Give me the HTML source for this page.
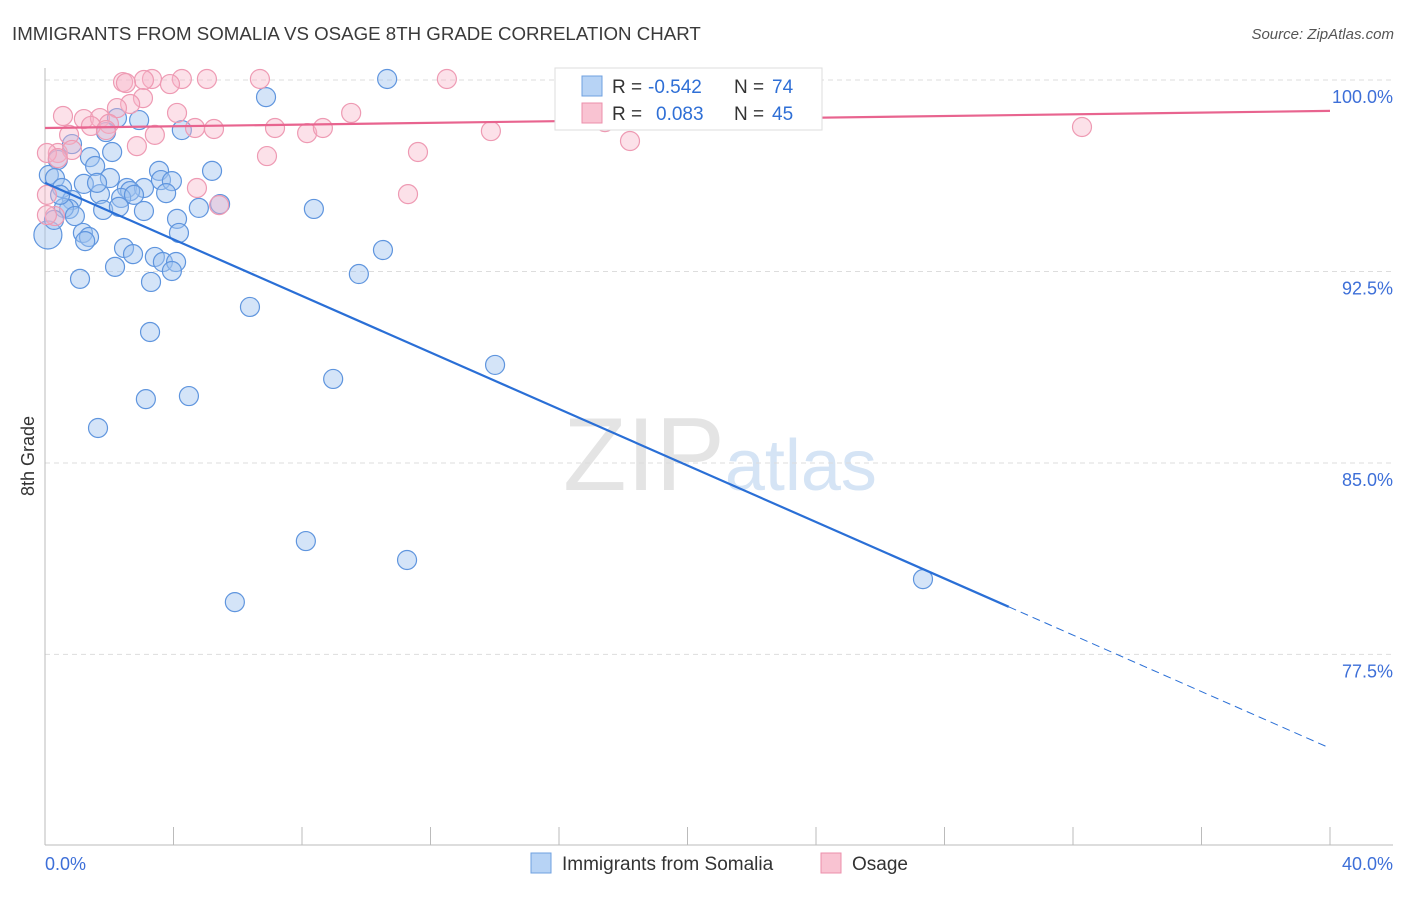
<!DOCTYPE html>
<html><head><meta charset="utf-8"><style>
body{margin:0;background:#fff;font-family:"Liberation Sans",sans-serif}
svg text{font-family:"Liberation Sans",sans-serif}
</style></head><body>
<svg id="chart" width="1406" height="892" xmlns="http://www.w3.org/2000/svg">
<text x="12" y="40" font-size="18.7" fill="#3a3a3a">IMMIGRANTS FROM SOMALIA VS OSAGE 8TH GRADE CORRELATION CHART</text>
<text x="1394" y="39" font-size="15" fill="#555" text-anchor="end" font-style="italic">Source: ZipAtlas.com</text>
<text x="720" y="490" font-size="104" fill="#e4e4e4" text-anchor="middle" font-family="Liberation Serif">ZIP<tspan fill="#d5e4f5" font-family="Liberation Sans" font-size="72">atlas</tspan></text>
<text transform="translate(34,456) rotate(-90)" font-size="18" fill="#333" text-anchor="middle">8th Grade</text>
<g id="grid"></g><g id="axes"></g><g id="pts"></g><g id="lines"></g>
<g>
<rect x="555" y="68" width="267" height="62" fill="#fff" stroke="#ddd"/>
<rect x="582" y="76" width="20" height="20" fill="#b7d3f5" stroke="#6fa0e0"/>
<rect x="582" y="103" width="20" height="20" fill="#f9c3d2" stroke="#ec8fab"/>
<text x="612" y="93" font-size="19" fill="#333">R = <tspan fill="#2f6fd6" x="648">-0.542</tspan><tspan x="734">N = </tspan><tspan fill="#2f6fd6" x="772">74</tspan></text>
<text x="612" y="120" font-size="19" fill="#333">R = <tspan fill="#2f6fd6" x="656">0.083</tspan><tspan x="734">N = </tspan><tspan fill="#2f6fd6" x="772">45</tspan></text>
</g>
<g>
<rect x="531" y="853" width="20" height="20" fill="#b7d3f5" stroke="#6fa0e0"/>
<text x="562" y="870" font-size="19" fill="#333">Immigrants from Somalia</text>
<rect x="821" y="853" width="20" height="20" fill="#f9c3d2" stroke="#ec8fab"/>
<text x="852" y="870" font-size="19" fill="#333">Osage</text>
</g>
</svg>
<script>
const yTicks=[100,92.5,85,77.5];
const yTickLabels=["100.0%","92.5%","85.0%","77.5%"];
const xTickLabels=["0.0%","40.0%"];
const blueX=[10.65,6.88,2.93,2.24,4.26,1.90,2.09,0.84,1.40,0.40,1.56,3.55,5.20,0.12,0.31,2.02,3.61,3.95,1.21,0.53,2.55,3.08,1.71,2.65,3.77,2.37,2.77,0.84,0.75,0.59,1.81,2.30,3.08,4.79,5.45,8.37,0.93,4.11,1.18,4.17,1.37,1.25,0.09,2.46,10.52,2.74,3.42,3.67,4.08,2.18,3.95,9.77,1.09,3.30,6.38,3.27,14.01,8.97,4.48,3.14,1.65,8.12,11.27,27.33,5.91,0.28,0.47,1.62];
const blueY=[100.04,99.33,98.43,98.51,98.04,97.96,97.18,97.49,96.98,96.87,96.63,96.44,96.44,96.28,96.16,96.16,96.08,96.04,95.93,95.77,95.77,95.77,95.53,95.65,95.57,95.38,95.50,95.30,94.95,94.99,94.91,95.03,94.87,94.99,95.14,94.95,94.67,94.56,94.01,94.01,93.85,93.69,93.93,93.42,93.34,93.18,93.07,92.87,92.87,92.68,92.52,92.40,92.21,92.09,91.11,90.13,88.84,88.29,87.62,87.50,86.37,81.94,81.20,80.45,79.55,94.52,95.50,95.97];
const pinkX=[3.33,4.26,5.04,6.69,12.51,2.43,3.08,2.52,3.89,3.05,2.65,2.24,0.56,1.21,1.71,4.11,9.53,23.41,1.43,1.99,4.67,5.26,7.16,8.16,8.65,13.88,17.43,32.28,0.75,1.90,3.42,0.40,0.84,2.86,6.91,11.61,18.21,0.06,0.40,4.73,11.30,5.42,0.06,0.31,0.06];
const pinkY=[100.04,100.04,100.04,100.04,100.04,99.92,100.0,99.88,99.84,99.29,99.06,98.90,98.59,98.47,98.51,98.71,98.71,98.75,98.20,98.28,98.12,98.08,98.12,97.92,98.12,98.00,98.35,98.16,97.85,98.04,97.85,97.14,97.26,97.41,97.02,97.18,97.61,97.14,96.94,95.77,95.53,95.10,95.50,94.67,94.71];
const blueFit=[95.97,73.83]; // y at x=0 and x=40
const pinkFit=[98.12,98.79];
const NS="http://www.w3.org/2000/svg";
const X=v=>45+v/40*1285, Y=v=>80+(100-v)*25.53;
function mk(p,t,a){const e=document.createElementNS(NS,t);for(const k in a)e.setAttribute(k,a[k]);document.getElementById(p).appendChild(e);return e;}
yTicks.forEach((t,i)=>{
 const l=mk('grid','line',{x1:45,x2:1393,y1:Y(t),y2:Y(t),stroke:'#ddd','stroke-dasharray':'5,4'});
 
 
 const tx=mk('grid','text',{x:1393,y:Y(t)+23,'font-size':18,fill:'#3d6fd8','text-anchor':'end'});
 tx.textContent=yTickLabels[i];
 
 
});
let a=mk('axes','line',{x1:45,x2:45,y1:68,y2:845,stroke:'#bbb'});


a=mk('axes','line',{x1:45,x2:1393,y1:845,y2:845,stroke:'#bbb'});


for(let i=0;i<=10;i++){const t=mk('axes','line',{x1:X(i*4),x2:X(i*4),y1:827,y2:845,stroke:'#bbb'});
 
 }
xTickLabels.forEach((s,i)=>{const t=mk('axes','text',{x:i?1393:45,y:870,'font-size':18,fill:'#3d6fd8','text-anchor':i?'end':'start'});t.textContent=s;
 
 });
blueX.forEach((v,i)=>{const c=mk('pts','circle',{cx:X(v),cy:Y(blueY[i]),r:v<0.1?14:9.5,fill:'rgba(160,196,240,0.45)',stroke:'#5f95de','stroke-width':1.2});
 
 });
pinkX.forEach((v,i)=>{const c=mk('pts','circle',{cx:X(v),cy:Y(pinkY[i]),r:9.5,fill:'rgba(248,180,200,0.4)',stroke:'#ee9ab3','stroke-width':1.2});
 
 });
const by=x=>blueFit[0]+(blueFit[1]-blueFit[0])*x/40;
let ln=mk('lines','line',{x1:X(0),y1:Y(by(0)),x2:X(30),y2:Y(by(30)),stroke:'#2a6fd6','stroke-width':2.2});


ln=mk('lines','line',{x1:X(30),y1:Y(by(30)),x2:X(40),y2:Y(by(40)),stroke:'#2a6fd6','stroke-width':1,'stroke-dasharray':'8,5'});


ln=mk('lines','line',{x1:X(0),y1:Y(pinkFit[0]),x2:X(40),y2:Y(pinkFit[1]),stroke:'#e8648f','stroke-width':2.2});


</script>
</body></html>
